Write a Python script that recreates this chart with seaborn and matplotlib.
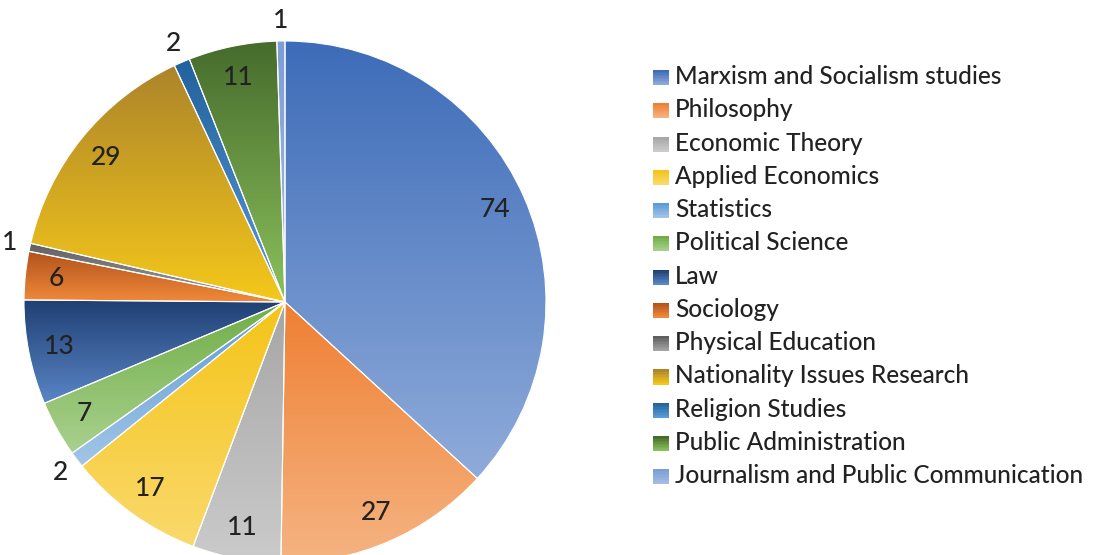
import numpy as np
import seaborn as sns
import matplotlib.pyplot as plt
from matplotlib.colors import LinearSegmentedColormap
from matplotlib.patches import Patch, Rectangle
from matplotlib.legend_handler import HandlerBase

# data
subjects = ['Marxism and Socialism studies', 'Philosophy', 'Economic Theory',
            'Applied Economics', 'Statistics', 'Political Science', 'Law',
            'Sociology', 'Physical Education', 'Nationality Issues Research',
            'Religion Studies', 'Public Administration',
            'Journalism and Public Communication']
counts = [74, 27, 11, 17, 2, 7, 13, 6, 1, 29, 2, 11, 1]

# gradient colours (top = dark, bottom = light)
top_colors = ['#3d6cb8', '#ef7f33', '#a6a6a6', '#f4c418', '#5b9bd5', '#70ad47',
              '#1f3f73', '#b2531c', '#5f5f5f', '#ac842a', '#21629c', '#466b2c',
              '#7c9dd6']
bottom_colors = ['#8fabda', '#f5b482', '#cbcbcb', '#fad96c', '#a3c5e6', '#a9d18e',
                 '#5a85c6', '#f0893a', '#a5a5a5', '#f5c81a', '#5b9bd5', '#8cc15c',
                 '#a6bde5']

sns.set_theme(style='white')
plt.rcParams['font.family'] = ['Lato', 'DejaVu Sans']

W, H = 1093, 555
fig = plt.figure(figsize=(W / 100, H / 100), dpi=100)
ax = fig.add_axes([0, 0, 1, 1])

cx, cy, r = 285, 253, 261
wedges, _ = ax.pie(counts, startangle=90, counterclock=False, center=(cx, cy),
                   radius=r, colors=bottom_colors,
                   wedgeprops=dict(edgecolor='white', linewidth=0.8))

grad = np.linspace(0, 1, 256).reshape(-1, 1)
for w, c_top, c_bot in zip(wedges, top_colors, bottom_colors):
    x0, y0, x1, y1 = w.get_path().get_extents().extents
    cmap = LinearSegmentedColormap.from_list('g', [c_bot, c_top])
    im = ax.imshow(grad, cmap=cmap, extent=(x0, x1, y0, y1), origin='lower',
                   aspect='auto', zorder=w.get_zorder(), interpolation='bilinear')
    im.set_clip_path(w)
    w.set_facecolor('none')
    w.set_zorder(w.get_zorder() + 1)

# value labels: small slices go outside
for w, v in zip(wedges, counts):
    ang = np.deg2rad((w.theta1 + w.theta2) / 2)
    d = 1.08 if v <= 2 else 0.88
    ax.text(cx + d * r * np.cos(ang), cy + d * r * np.sin(ang), str(v),
            ha='center', va='center', fontsize=19, fontweight='medium',
            color='#222222', zorder=5)


class GradHandler(HandlerBase):
    def create_artists(self, legend, orig, xd, yd, width, height, fontsize, trans):
        n = 10
        arts = []
        for i in range(n):
            t = i / (n - 1)
            col = LinearSegmentedColormap.from_list('h', [orig.c_bot, orig.c_top])(t)
            arts.append(Rectangle((xd, yd + height * i / n), width, height / n,
                                  facecolor=col, edgecolor='none', transform=trans))
        return arts


handles = []
for c_top, c_bot in zip(top_colors, bottom_colors):
    p = Patch()
    p.c_top, p.c_bot = c_top, c_bot
    handles.append(p)

leg = ax.legend(handles, subjects, handler_map={Patch: GradHandler()},
                loc='upper left', bbox_to_anchor=(653 / W, 1 - 65 / H),
                frameon=False, fontsize=17.6, handlelength=0.66, handleheight=0.57,
                handletextpad=0.25, labelspacing=0.42, borderpad=0, borderaxespad=0,
                labelcolor='#222222')
for t in leg.get_texts():
    t.set_fontweight('medium')

ax.set_xlim(0, W)
ax.set_ylim(0, H)
ax.set_aspect('equal')
ax.axis('off')

fig.savefig('out.png', dpi=100)
